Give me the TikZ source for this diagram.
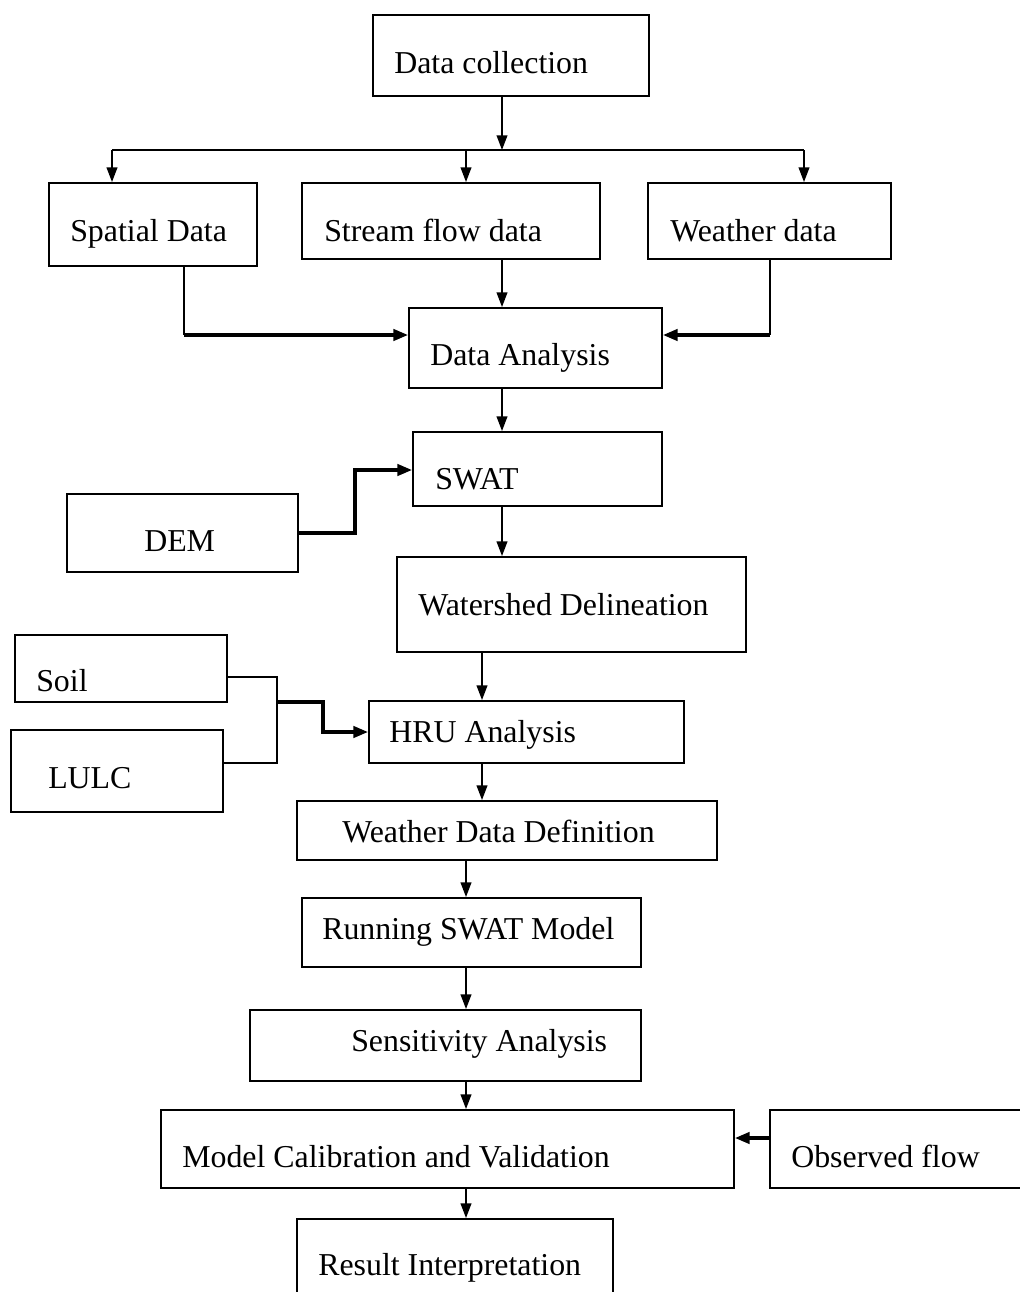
\documentclass[tikz,border=0pt]{standalone}
\usepackage{fontspec}
\setmainfont{Liberation Serif}
\usetikzlibrary{arrows.meta,fit}
\tikzset{
  box/.style={draw, line width=1.4pt, inner sep=0pt},
  lbl/.style={anchor=base west, inner sep=0pt, font=\fontsize{23.9}{28}\selectfont},
  line/.style={line width=1.3pt},
  arr/.style={line width=1.3pt, -{Triangle[length=11pt,width=8pt]}},
  arrthick/.style={line width=2.4pt, -{Triangle[length=11pt,width=8.5pt]}},
}
\begin{document}
\begin{tikzpicture}[x=0.75pt,y=0.75pt,yscale=-1,xscale=1]
\useasboundingbox (0,0) rectangle (1020,1292);

%Flowchart: boxes
\node [box, fit={(373,15) (649,96)}] (dc) {};
\node [box, fit={(49,183) (257,266)}] (sd) {};
\node [box, fit={(302,183) (600,259)}] (sfd) {};
\node [box, fit={(648,183) (891,259)}] (wd) {};
\node [box, fit={(409,308) (662,388)}] (da) {};
\node [box, fit={(413,432) (662,506)}] (swat) {};
\node [box, fit={(67,494) (298,572)}] (dem) {};
\node [box, fit={(397,557) (746,652)}] (ws) {};
\node [box, fit={(15,635) (227,702)}] (soil) {};
\node [box, fit={(11,730) (223,812)}] (lulc) {};
\node [box, fit={(369,701) (684,763)}] (hru) {};
\node [box, fit={(297,801) (717,860)}] (wdd) {};
\node [box, fit={(302,898) (641,967)}] (run) {};
\node [box, fit={(250,1010) (641,1081)}] (sens) {};
\node [box, fit={(161,1110) (734,1188)}] (mcv) {};
\node [box, fit={(770,1110) (1030,1188)}] (obs) {};
\node [box, fit={(297,1219) (613,1300)}] (res) {};

% Text Node
\node [lbl] (dc-t) at (394,73) {Data collection};
\node [lbl] (sd-t) at (70,241) {Spatial Data};
\node [lbl] (sfd-t) at (324,241) {Stream flow data};
\node [lbl] (wd-t) at (670,241) {Weather data};
\node [lbl] (da-t) at (430,365) {Data Analysis};
\node [lbl] (swat-t) at (435,489) {SWAT};
\node [lbl] (dem-t) at (144,551) {DEM};
\node [lbl] (ws-t) at (418,615) {Watershed Delineation};
\node [lbl] (soil-t) at (36,691) {Soil};
\node [lbl] (lulc-t) at (48,788) {LULC};
\node [lbl] (hru-t) at (389,742) {HRU Analysis};
\node [lbl] (wdd-t) at (342,842) {Weather Data Definition};
\node [lbl] (run-t) at (322,939) {Running SWAT Model};
\node [lbl] (sens-t) at (351,1051) {Sensitivity Analysis};
\node [lbl] (mcv-t) at (182,1167) {Model Calibration and Validation};
\node [lbl] (obs-t) at (791,1167) {Observed flow};
\node [lbl] (res-t) at (318,1275) {Result Interpretation};

% Branch points
\coordinate (split) at (502,150);
\coordinate (bl) at (112,150);
\coordinate (bm) at (466,150);
\coordinate (br) at (804,150);
\coordinate (sdj) at (184,335);
\coordinate (wdj) at (770,335);
\coordinate (demj) at (355,470);
\coordinate (sa) at (277,677);
\coordinate (sb) at (277,763);
\coordinate (sj) at (277,702);
\coordinate (hj) at (323,732);
\coordinate (oj) at (770,1138);

%Straight Lines
\draw [arr] (dc.south -| split) -- (split);
\draw [line] (bl) -- (br);
\draw [arr] (bl) -- (bl |- sd.north);
\draw [arr] (bm) -- (bm |- sfd.north);
\draw [arr] (br) -- (br |- wd.north);
\draw [arr] (sfd.south -| split) -- (da.north -| split);
\draw [line] (sd.south -| sdj) -- (sdj);
\draw [arrthick] (sdj) -- (sdj -| da.west);
\draw [line] (wd.south -| wdj) -- (wdj);
\draw [arrthick] (wdj) -- (wdj -| da.east);
\draw [arr] (da.south -| split) -- (swat.north -| split);
\draw [arrthick] (dem.east) -| (demj) -- (demj -| swat.west);
\draw [arr] (swat.south -| split) -- (ws.north -| split);
\draw [arr] (ws.south -| 482,0) -- (hru.north -| 482,0);
\draw [line] (soil.east |- sa) -- (sa) -- (sb) -- (lulc.east |- sb);
\draw [arrthick] (sj) -| (hj) -- (hru.west |- hj);
\draw [arr] (hru.south -| 482,0) -- (wdd.north -| 482,0);
\draw [arr] (wdd.south -| bm) -- (run.north -| bm);
\draw [arr] (run.south -| bm) -- (sens.north -| bm);
\draw [arr] (sens.south -| bm) -- (mcv.north -| bm);
\draw [arrthick] (obs.west |- oj) -- (mcv.east |- oj);
\draw [arr] (mcv.south -| bm) -- (res.north -| bm);
\end{tikzpicture}
\end{document}
